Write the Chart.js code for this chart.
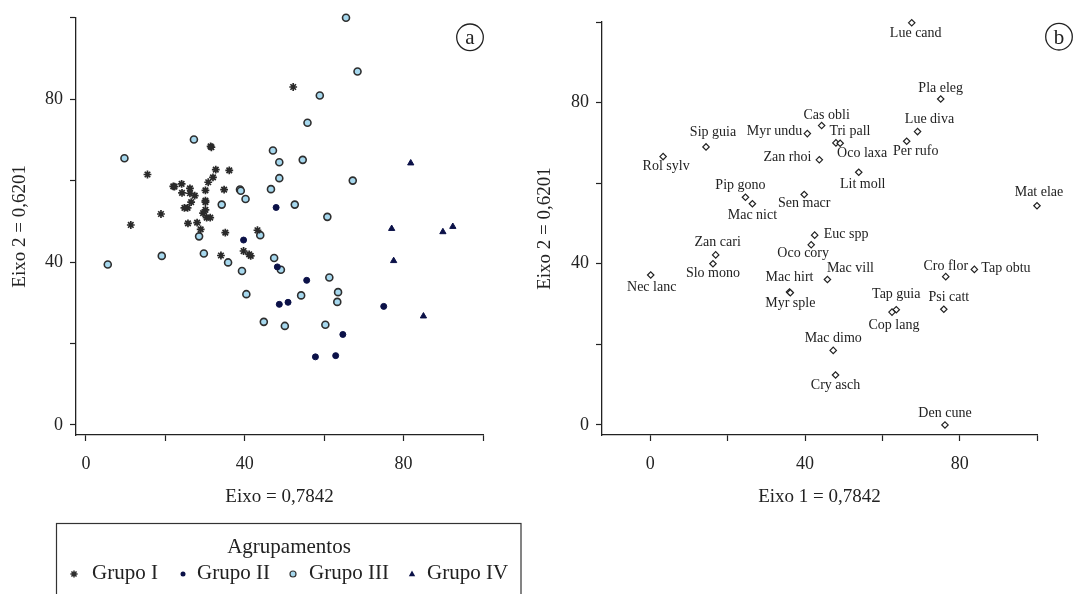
<!DOCTYPE html>
<html>
<head>
<meta charset="utf-8">
<script src="https://cdn.jsdelivr.net/npm/chart.js@4.4.1/dist/chart.umd.min.js"></script>
<style>
  html, body { margin: 0; padding: 0; background: #ffffff; }
  #wrap { position: relative; width: 1088px; height: 594px; overflow: hidden; background: #ffffff; }
  #ca { position: absolute; left: 0; top: 0; }
  #cb { position: absolute; left: 520px; top: 0; }
</style>
</head>
<body>
<div id="wrap">
  <canvas id="ca" width="540" height="594"></canvas>
  <canvas id="cb" width="568" height="594"></canvas>
</div>
<script>
// ---------------- DATA ----------------
// Panel (a): sample units by group, [Eixo 1, Eixo 2]
const grupoI = [
  [52.2, 83.0], [31.4, 68.4], [31.6, 68.2], [15.5, 61.5], [32.7, 62.7], [36.1, 62.5],
  [32.0, 60.8], [30.8, 59.6], [24.1, 59.2], [22.0, 58.6], [22.3, 58.5], [26.2, 58.1],
  [30.1, 57.6], [34.8, 57.8], [24.2, 57.0], [26.2, 56.9], [27.4, 56.3], [26.5, 54.7],
  [30.1, 55.1], [30.1, 54.7], [24.8, 53.3], [25.6, 53.3], [18.9, 51.8], [30.1, 52.8],
  [29.5, 52.0], [30.4, 50.9], [31.3, 50.9], [25.7, 49.5], [28.0, 49.7], [11.3, 49.1],
  [28.9, 48.0], [35.1, 47.2], [43.2, 47.8], [39.7, 42.7], [41.1, 41.9], [34.0, 41.6],
  [41.5, 41.5]
];
const grupoII = [
  [47.9, 53.4], [39.7, 45.4], [48.2, 38.8], [55.6, 35.5], [48.7, 29.6],
  [50.9, 30.1], [75.0, 29.1], [64.7, 22.2], [57.8, 16.7], [62.9, 17.0]
];
const grupoIII = [
  [65.5, 100.0], [68.4, 86.8], [58.9, 80.9], [55.8, 74.2], [27.2, 70.1], [9.7, 65.5],
  [47.1, 67.4], [48.7, 64.5], [54.6, 65.1], [48.7, 60.6], [67.2, 60.0], [38.8, 57.8],
  [39.0, 57.5], [46.6, 57.9], [40.2, 55.5], [34.2, 54.1], [52.6, 54.1], [60.8, 51.1],
  [28.5, 46.3], [43.9, 46.6], [19.1, 41.5], [29.7, 42.1], [5.5, 39.4], [35.8, 39.9],
  [47.4, 41.0], [49.1, 38.1], [39.3, 37.8], [61.3, 36.2], [40.4, 32.1], [54.2, 31.8],
  [63.5, 32.6], [63.3, 30.2], [44.8, 25.3], [50.1, 24.3], [60.3, 24.6]
];
const grupoIV = [
  [81.8, 64.3], [77.0, 48.2], [89.9, 47.4], [92.4, 48.7], [77.5, 40.3], [85.0, 26.7]
];
const groupNames = ['Grupo I', 'Grupo II', 'Grupo III', 'Grupo IV'];

// Panel (b): species
const speciesNames = [
  'Lue cand', 'Pla eleg', 'Lue diva', 'Per rufo', 'Cas obli', 'Myr undu', 'Tri pall',
  'Oco laxa', 'Zan rhoi', 'Lit moll', 'Sip guia', 'Rol sylv', 'Pip gono', 'Mac nict',
  'Sen macr', 'Mat elae', 'Euc spp', 'Oco cory', 'Zan cari', 'Slo mono', 'Nec lanc',
  'Mac vill', 'Mac hirt', 'Myr sple', 'Cro flor', 'Tap obtu', 'Tap guia', 'Cop lang',
  'Psi catt', 'Mac dimo', 'Cry asch', 'Den cune'
];
const speciesX = [
  67.6, 75.1, 69.1, 66.3, 44.3, 40.6, 48.0,
  49.1, 43.7, 53.9, 14.4, 3.3, 24.6, 26.4,
  39.8, 100.0, 42.5, 41.6, 16.9, 16.2, 0.1,
  45.8, 36.0, 36.2, 76.4, 83.8, 63.6, 62.5,
  75.9, 47.3, 47.9, 76.2
];
const speciesY = [
  99.8, 80.9, 72.8, 70.4, 74.3, 72.3, 70.0,
  69.9, 65.8, 62.7, 69.0, 66.6, 56.5, 54.9,
  57.2, 54.4, 47.1, 44.7, 42.2, 40.0, 37.2,
  36.1, 33.0, 32.8, 36.8, 38.6, 28.6, 28.0,
  28.7, 18.5, 12.4, 0.0
];

// Axes
const axisTicks = [0, 20, 40, 60, 80, 100];
const labeledTicks = [0, 40, 80];
const titleA_x = 'Eixo = 0,7842';
const titleB_x = 'Eixo 1 = 0,7842';
const titleY = 'Eixo 2 = 0,6201';
const legendTitle = 'Agrupamentos';

// ---------------- STYLE ----------------
const FONT = '"Liberation Serif", "DejaVu Serif", serif';
const INK = '#222222';
const NAVY = '#0b1148';
const LIGHT = '#a6d8ee';

// label placement for species names: [dx, dy, align] (pixels)
const labelPlacement = [
  [4, 11, 'center'], [0, -11, 'center'], [12, -12, 'center'], [9, 10, 'center'],
  [5, -10, 'center'], [-5, -2, 'right'], [14, -12, 'center'], [22, 10, 'center'],
  [-8, -2, 'right'], [4, 12, 'center'], [7, -15, 'center'], [3, 10, 'center'],
  [-5, -12, 'center'], [0, 12, 'center'], [0, 9, 'center'], [2, -13, 'center'],
  [9, -1, 'left'], [-8, 9, 'center'], [2, -13, 'center'], [0, 10, 'center'],
  [1, 12, 'center'], [23, -11, 'center'], [0, -15, 'center'], [0, 11, 'center'],
  [0, -10, 'center'], [7, -1, 'left'], [0, -15, 'center'], [2, 13, 'center'],
  [5, -12, 'center'], [0, -12, 'center'], [0, 10, 'center'], [0, -12, 'center']
];

const toPts = arr => arr.map(p => ({ x: p[0], y: p[1] }));

function xScale(min, title) {
  return {
    type: 'linear', min: min, max: 100,
    afterBuildTicks: s => { s.ticks = axisTicks.map(v => ({ value: v })); },
    afterFit: s => { s.height = 73; },
    ticks: {
      callback: v => labeledTicks.includes(v) ? String(v) : '',
      font: { family: FONT, size: 18 }, color: INK, padding: 12,
      maxRotation: 0, autoSkip: false
    },
    grid: { display: true, drawOnChartArea: false, drawTicks: true, tickLength: 6, tickColor: INK, tickWidth: 1.2 },
    border: { display: true, color: INK, width: 1.3 },
    title: { display: true, text: title, font: { family: FONT, size: 19 }, color: INK, padding: { top: 0, bottom: 0 } }
  };
}
function yScale(width, titlePadTop) {
  return {
    type: 'linear', min: -2.5, max: 100,
    afterBuildTicks: s => { s.ticks = axisTicks.map(v => ({ value: v })); },
    afterFit: s => { s.width = width; },
    ticks: {
      callback: v => labeledTicks.includes(v) ? String(v) : '',
      font: { family: FONT, size: 18 }, color: INK, padding: 7, autoSkip: false
    },
    grid: { display: true, drawOnChartArea: false, drawTicks: true, tickLength: 6, tickColor: INK, tickWidth: 1.2 },
    border: { display: true, color: INK, width: 1.3 },
    title: { display: true, text: titleY, font: { family: FONT, size: 19 }, color: INK, padding: { top: titlePadTop, bottom: 0 } }
  };
}

function drawMarker(ctx, style, x, y, r) {
  ctx.save();
  ctx.beginPath();
  if (style === 'star') {
    ctx.strokeStyle = '#2d2d2d'; ctx.lineWidth = 1.5;
    for (let k = 0; k < 4; k++) {
      const a = k * Math.PI / 4;
      ctx.moveTo(x - r * Math.cos(a), y - r * Math.sin(a));
      ctx.lineTo(x + r * Math.cos(a), y + r * Math.sin(a));
    }
    ctx.stroke();
  } else if (style === 'dot') {
    ctx.fillStyle = NAVY; ctx.arc(x, y, r, 0, Math.PI * 2); ctx.fill();
  } else if (style === 'ring') {
    ctx.fillStyle = LIGHT; ctx.strokeStyle = '#333'; ctx.lineWidth = 1.2;
    ctx.arc(x, y, r, 0, Math.PI * 2); ctx.fill(); ctx.stroke();
  } else {
    ctx.fillStyle = NAVY;
    ctx.moveTo(x, y - r * 1.1); ctx.lineTo(x + r, y + r * 0.7); ctx.lineTo(x - r, y + r * 0.7);
    ctx.closePath(); ctx.fill();
  }
  ctx.restore();
}

function circledLetter(ctx, cx, cy, letter, baseY) {
  ctx.save();
  ctx.beginPath();
  ctx.strokeStyle = INK; ctx.lineWidth = 1.3;
  ctx.arc(cx, cy, 13.3, 0, Math.PI * 2); ctx.stroke();
  ctx.fillStyle = INK; ctx.font = '21px ' + FONT;
  ctx.textAlign = 'center'; ctx.textBaseline = 'alphabetic';
  ctx.fillText(letter, cx, baseY);
  ctx.restore();
}

const decorA = {
  id: 'decorA',
  afterDraw(chart) {
    const ctx = chart.ctx;
    circledLetter(ctx, 470, 37.3, 'a', 43.5);
    // legend box
    ctx.save();
    ctx.strokeStyle = '#333'; ctx.lineWidth = 1.2;
    ctx.strokeRect(56.5, 523.5, 464.5, 100);
    ctx.fillStyle = INK; ctx.font = '21px ' + FONT;
    ctx.textAlign = 'center'; ctx.textBaseline = 'alphabetic';
    ctx.fillText(legendTitle, 289, 552.7);
    const mx = [74, 183, 293, 412], tx = [92, 197, 309, 427];
    const styles = ['star', 'dot', 'ring', 'tri'], rs = [3.6, 2.5, 3, 3.2];
    ctx.textAlign = 'left';
    groupNames.forEach((n, i) => {
      drawMarker(ctx, styles[i], mx[i], 574, rs[i]);
      ctx.fillStyle = INK; ctx.font = '21px ' + FONT;
      ctx.fillText(n, tx[i], 579);
    });
    ctx.restore();
  }
};

const decorB = {
  id: 'decorB',
  afterDatasetsDraw(chart) {
    const ctx = chart.ctx;
    const meta = chart.getDatasetMeta(0);
    ctx.save();
    ctx.font = '14px ' + FONT;
    ctx.fillStyle = INK;
    ctx.textBaseline = 'middle';
    meta.data.forEach((pt, i) => {
      const p = labelPlacement[i];
      ctx.textAlign = p[2];
      ctx.fillText(speciesNames[i], pt.x + p[0], pt.y + p[1]);
    });
    ctx.restore();
  },
  afterDraw(chart) {
    circledLetter(chart.ctx, 539, 36.7, 'b', 44);
  }
};

const commonPlugins = { legend: { display: false }, tooltip: { enabled: false } };

new Chart(document.getElementById('ca'), {
  type: 'scatter',
  data: {
    datasets: [
      { label: groupNames[0], data: toPts(grupoI), pointStyle: 'star', pointRadius: 3.9,
        borderColor: '#2a2a2a', backgroundColor: '#2a2a2a', pointBorderWidth: 1.7, clip: false },
      { label: groupNames[1], data: toPts(grupoII), pointStyle: 'circle', pointRadius: 3,
        borderColor: NAVY, backgroundColor: NAVY, pointBorderWidth: 1, clip: false },
      { label: groupNames[2], data: toPts(grupoIII), pointStyle: 'circle', pointRadius: 3.5,
        borderColor: '#2e2e2e', backgroundColor: LIGHT, pointBorderWidth: 1.6, clip: false },
      { label: groupNames[3], data: toPts(grupoIV), pointStyle: 'triangle', pointRadius: 3.6,
        borderColor: NAVY, backgroundColor: NAVY, pointBorderWidth: 1, clip: false }
    ]
  },
  options: {
    responsive: false, animation: false, events: [],
    layout: { padding: { left: 0, top: 16, right: 57, bottom: 86 } },
    scales: { x: xScale(-2.5, titleA_x), y: yScale(76, 8.3) },
    plugins: commonPlugins
  },
  plugins: [decorA]
});

new Chart(document.getElementById('cb'), {
  type: 'scatter',
  data: {
    datasets: [
      { label: 'Espécies', data: speciesX.map((x, i) => ({ x: x, y: speciesY[i] })),
        pointStyle: 'rectRot', pointRadius: 3.2, borderColor: '#222', backgroundColor: '#ffffff',
        pointBorderWidth: 1.2, clip: false }
    ]
  },
  options: {
    responsive: false, animation: false, events: [],
    layout: { padding: { left: 0, top: 22, right: 51, bottom: 86 } },
    scales: { x: xScale(-12.5, titleB_x), y: yScale(82, 13.6) },
    plugins: commonPlugins
  },
  plugins: [decorB]
});
</script>
</body>
</html>
